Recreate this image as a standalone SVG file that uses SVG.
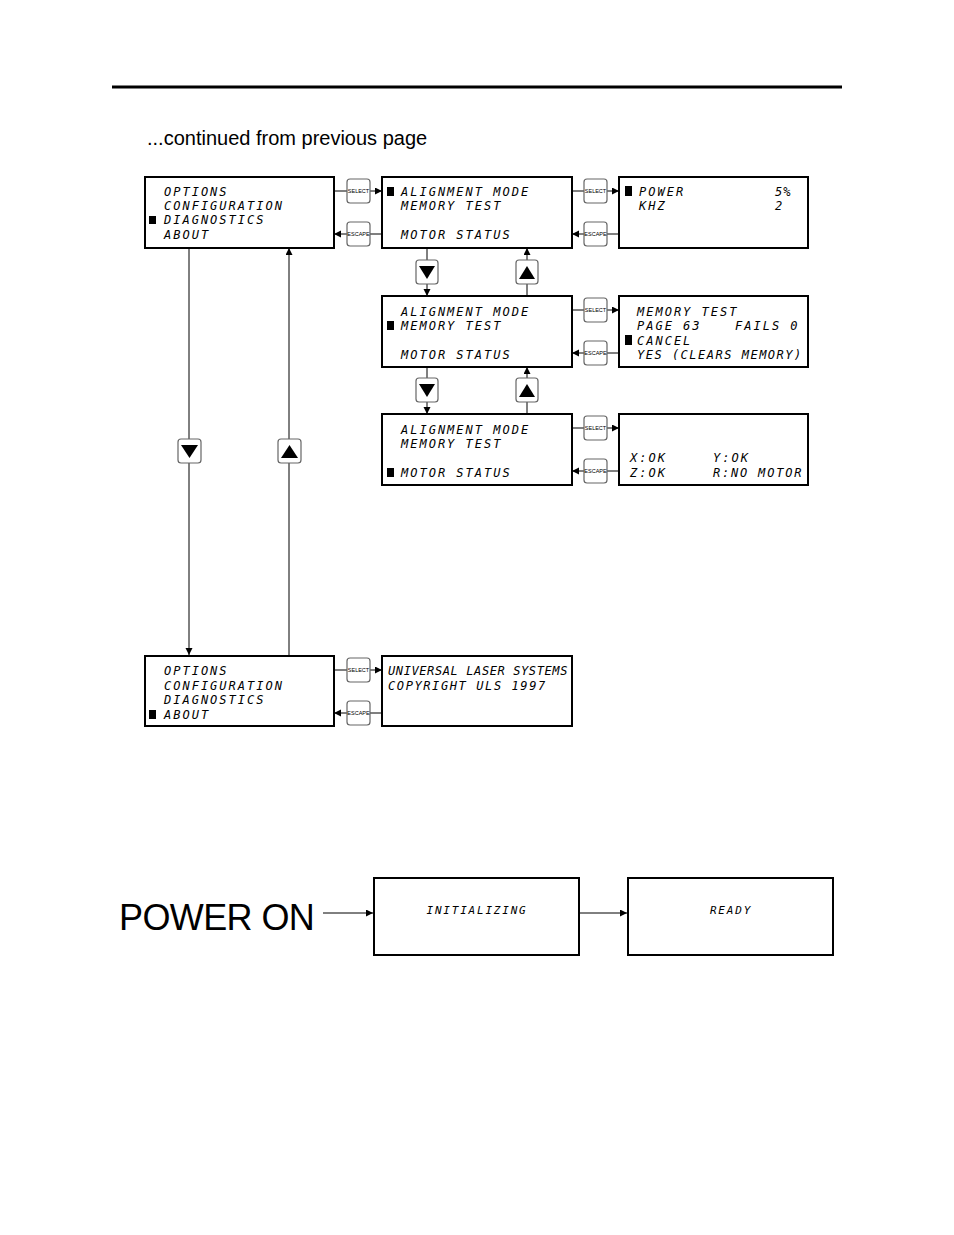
<svg xmlns="http://www.w3.org/2000/svg" width="954" height="1235" viewBox="0 0 954 1235">
<style>
.box{fill:#fff;stroke:#000;stroke-width:2}
.lcd{font-family:"DejaVu Sans Mono",monospace;font-size:12px;letter-spacing:2px;font-style:italic;fill:#000}
.btn{fill:#fff;stroke:#666;stroke-width:1.2}
.btxt{font-family:"Liberation Sans",Arial,sans-serif;font-size:5.5px;fill:#000;text-anchor:middle}
.ln{stroke:#000;stroke-width:1;fill:none}
.ar{stroke:#000;stroke-width:1;fill:none;marker-end:url(#ah)}
.mk{fill:#000}
</style>
<defs>
<marker id="ah" markerUnits="userSpaceOnUse" markerWidth="8" markerHeight="8" refX="7" refY="3.5" orient="auto">
<path d="M0,0 L7,3.5 L0,7 z" fill="#000"/>
</marker>
</defs>
<rect width="954" height="1235" fill="#fff"/>
<line x1="112" y1="87" x2="842" y2="87" stroke="#000" stroke-width="3"/>
<text x="147" y="145" font-family="Liberation Sans,Arial,sans-serif" font-size="20">...continued from previous page</text>

<g id="connectors">
<line class="ln" x1="334" y1="191" x2="347" y2="191"/><line class="ar" x1="370" y1="191" x2="382" y2="191"/>
<line class="ln" x1="382" y1="234" x2="370" y2="234"/><line class="ar" x1="347" y1="234" x2="334" y2="234"/>
<line class="ln" x1="572" y1="191" x2="584" y2="191"/><line class="ar" x1="607" y1="191" x2="619" y2="191"/>
<line class="ln" x1="619" y1="234" x2="607" y2="234"/><line class="ar" x1="584" y1="234" x2="572" y2="234"/>
<line class="ln" x1="572" y1="310" x2="584" y2="310"/><line class="ar" x1="607" y1="310" x2="619" y2="310"/>
<line class="ln" x1="619" y1="353" x2="607" y2="353"/><line class="ar" x1="584" y1="353" x2="572" y2="353"/>
<line class="ln" x1="572" y1="428" x2="584" y2="428"/><line class="ar" x1="607" y1="428" x2="619" y2="428"/>
<line class="ln" x1="619" y1="471" x2="607" y2="471"/><line class="ar" x1="584" y1="471" x2="572" y2="471"/>
<line class="ln" x1="334" y1="670" x2="347" y2="670"/><line class="ar" x1="370" y1="670" x2="382" y2="670"/>
<line class="ln" x1="382" y1="713" x2="370" y2="713"/><line class="ar" x1="347" y1="713" x2="334" y2="713"/>
<line class="ln" x1="427" y1="248" x2="427" y2="260"/><line class="ar" x1="427" y1="284" x2="427" y2="296"/>
<line class="ln" x1="527" y1="296" x2="527" y2="284"/><line class="ar" x1="527" y1="260" x2="527" y2="248"/>
<line class="ln" x1="427" y1="367" x2="427" y2="378"/><line class="ar" x1="427" y1="402" x2="427" y2="414"/>
<line class="ln" x1="527" y1="414" x2="527" y2="402"/><line class="ar" x1="527" y1="378" x2="527" y2="367"/>
<line class="ln" x1="189" y1="248" x2="189" y2="439"/><line class="ar" x1="189" y1="463" x2="189" y2="655"/>
<line class="ln" x1="289" y1="656" x2="289" y2="463"/><line class="ar" x1="289" y1="439" x2="289" y2="248"/>
<line class="ar" x1="323" y1="913" x2="373" y2="913"/>
<line class="ar" x1="580" y1="913" x2="627" y2="913"/>
</g>

<g id="buttons">
<rect class="btn" x="347" y="179" width="23" height="24" rx="3"/><text class="btxt" x="358.5" y="193">SELECT</text>
<rect class="btn" x="347" y="222" width="23" height="24" rx="3"/><text class="btxt" x="358.5" y="236">ESCAPE</text>
<rect class="btn" x="584" y="179" width="23" height="24" rx="3"/><text class="btxt" x="595.5" y="193">SELECT</text>
<rect class="btn" x="584" y="222" width="23" height="24" rx="3"/><text class="btxt" x="595.5" y="236">ESCAPE</text>
<rect class="btn" x="584" y="298" width="23" height="24" rx="3"/><text class="btxt" x="595.5" y="312">SELECT</text>
<rect class="btn" x="584" y="341" width="23" height="24" rx="3"/><text class="btxt" x="595.5" y="355">ESCAPE</text>
<rect class="btn" x="584" y="416" width="23" height="24" rx="3"/><text class="btxt" x="595.5" y="430">SELECT</text>
<rect class="btn" x="584" y="459" width="23" height="24" rx="3"/><text class="btxt" x="595.5" y="473">ESCAPE</text>
<rect class="btn" x="347" y="658" width="23" height="24" rx="3"/><text class="btxt" x="358.5" y="672">SELECT</text>
<rect class="btn" x="347" y="701" width="23" height="24" rx="3"/><text class="btxt" x="358.5" y="715">ESCAPE</text>
<rect class="btn" x="416" y="260" width="22" height="24" rx="3"/><path d="M419,266 L435,266 L427,279 z" fill="#000"/>
<rect class="btn" x="516" y="260" width="22" height="24" rx="3"/><path d="M519,279 L535,279 L527,266 z" fill="#000"/>
<rect class="btn" x="416" y="378" width="22" height="24" rx="3"/><path d="M419,384 L435,384 L427,397 z" fill="#000"/>
<rect class="btn" x="516" y="378" width="22" height="24" rx="3"/><path d="M519,397 L535,397 L527,384 z" fill="#000"/>
<rect class="btn" x="178" y="439" width="23" height="24" rx="3"/><path d="M181,445 L198,445 L189.5,458 z" fill="#000"/>
<rect class="btn" x="278" y="439" width="23" height="24" rx="3"/><path d="M281,458 L298,458 L289.5,445 z" fill="#000"/>
</g>

<g id="menu-diagnostics">
<rect class="box" x="145" y="177" width="189" height="71"/>
<text class="lcd" x="164" y="196">OPTIONS</text>
<text class="lcd" x="164" y="210">CONFIGURATION</text>
<rect class="mk" x="149" y="216" width="7" height="8"/>
<text class="lcd" x="164" y="224">DIAGNOSTICS</text>
<text class="lcd" x="164" y="239">ABOUT</text>
</g>

<g id="diag-alignment">
<rect class="box" x="382" y="177" width="190" height="71"/>
<rect class="mk" x="387" y="187" width="7" height="9"/>
<text class="lcd" x="401" y="196">ALIGNMENT MODE</text>
<text class="lcd" x="401" y="210">MEMORY TEST</text>
<text class="lcd" x="401" y="239">MOTOR STATUS</text>
</g>

<g id="alignment-mode">
<rect class="box" x="619" y="177" width="189" height="71"/>
<rect class="mk" x="625" y="186" width="7" height="10"/>
<text class="lcd" x="639" y="196">POWER</text>
<text class="lcd" x="775" y="196" style="letter-spacing:1px">5%</text>
<text class="lcd" x="639" y="210">KHZ</text>
<text class="lcd" x="775" y="210">2</text>
</g>

<g id="diag-memory">
<rect class="box" x="382" y="296" width="190" height="71"/>
<text class="lcd" x="401" y="316">ALIGNMENT MODE</text>
<rect class="mk" x="387" y="321" width="7" height="9"/>
<text class="lcd" x="401" y="330">MEMORY TEST</text>
<text class="lcd" x="401" y="359">MOTOR STATUS</text>
</g>

<g id="memory-test">
<rect class="box" x="619" y="296" width="189" height="71"/>
<text class="lcd" x="637" y="316">MEMORY TEST</text>
<text class="lcd" x="637" y="330">PAGE 63</text>
<text class="lcd" x="735" y="330">FAILS 0</text>
<rect class="mk" x="625" y="335" width="7" height="10"/>
<text class="lcd" x="637" y="345">CANCEL</text>
<text class="lcd" x="637" y="359" style="letter-spacing:1.5px">YES (CLEARS MEMORY)</text>
</g>

<g id="diag-motor">
<rect class="box" x="382" y="414" width="190" height="71"/>
<text class="lcd" x="401" y="434">ALIGNMENT MODE</text>
<text class="lcd" x="401" y="448">MEMORY TEST</text>
<rect class="mk" x="387" y="468" width="7" height="9"/>
<text class="lcd" x="401" y="477">MOTOR STATUS</text>
</g>

<g id="motor-status">
<rect class="box" x="619" y="414" width="189" height="71"/>
<text class="lcd" x="630" y="462">X:OK</text>
<text class="lcd" x="713" y="462">Y:OK</text>
<text class="lcd" x="630" y="477">Z:OK</text>
<text class="lcd" x="713" y="477" style="letter-spacing:1.8px">R:NO MOTOR</text>
</g>

<g id="menu-about">
<rect class="box" x="145" y="656" width="189" height="70"/>
<text class="lcd" x="164" y="675">OPTIONS</text>
<text class="lcd" x="164" y="690">CONFIGURATION</text>
<text class="lcd" x="164" y="704">DIAGNOSTICS</text>
<rect class="mk" x="149" y="710" width="7" height="9"/>
<text class="lcd" x="164" y="719">ABOUT</text>
</g>

<g id="about">
<rect class="box" x="382" y="656" width="190" height="70"/>
<text class="lcd" x="388" y="675" style="letter-spacing:0.6px">UNIVERSAL LASER SYSTEMS</text>
<text class="lcd" x="388" y="690" style="letter-spacing:1.6px">COPYRIGHT ULS 1997</text>
</g>

<g id="power-on">
<text x="119" y="930" font-family="Liberation Sans,Arial,sans-serif" font-size="36" letter-spacing="-0.6">POWER ON</text>
</g>

<g id="initializing">
<rect class="box" x="374" y="878" width="205" height="77"/>
<text class="lcd" x="477" y="914" style="font-size:11px;letter-spacing:1.8px" text-anchor="middle">INITIALIZING</text>
</g>

<g id="ready">
<rect class="box" x="628" y="878" width="205" height="77"/>
<text class="lcd" x="731" y="914" style="font-size:11px;letter-spacing:1.8px" text-anchor="middle">READY</text>
</g>
</svg>
